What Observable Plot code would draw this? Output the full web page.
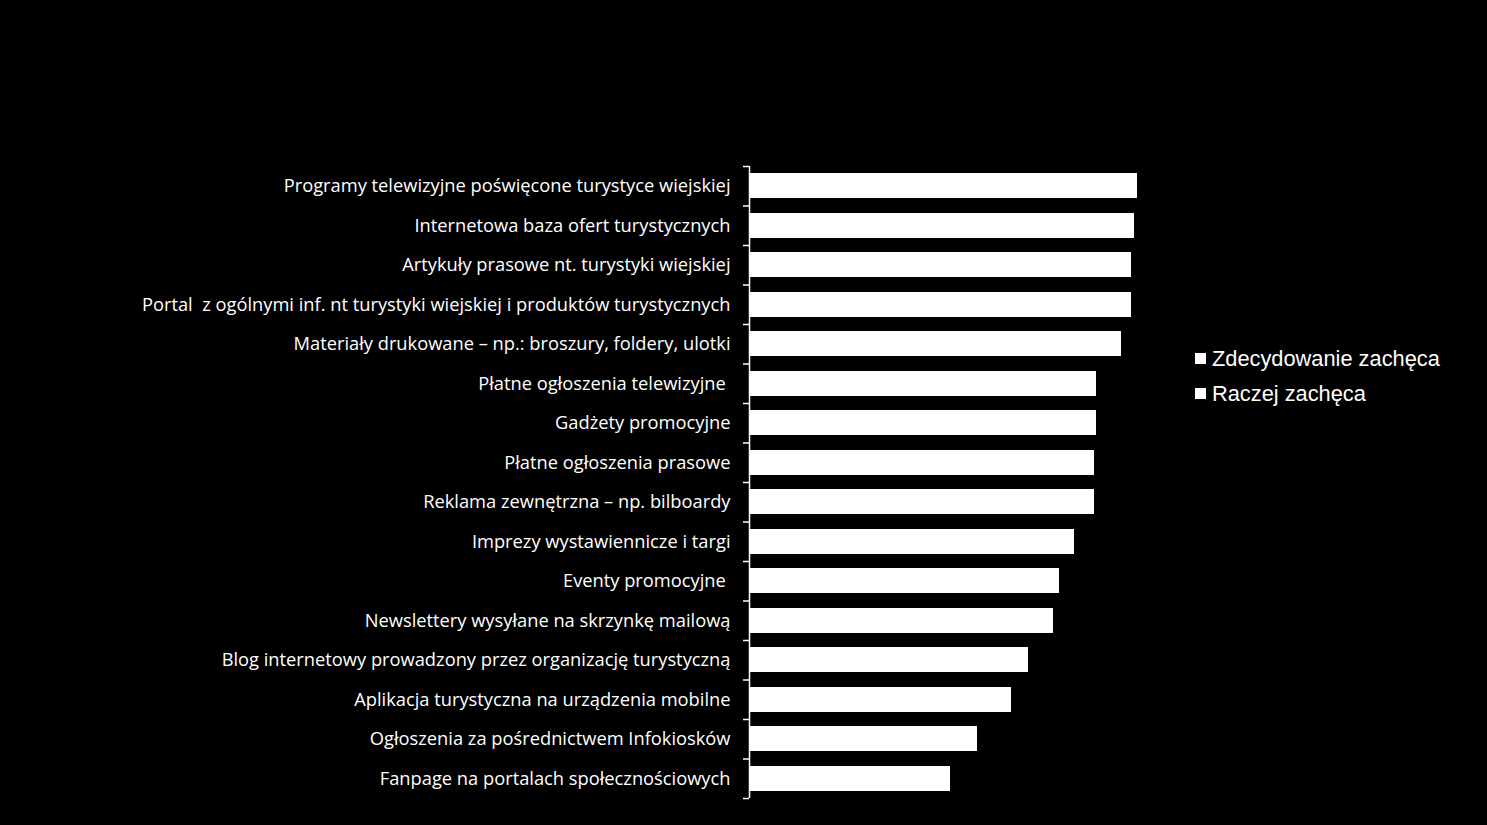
<!DOCTYPE html>
<html>
<head>
<meta charset="utf-8">
<script src="https://cdn.jsdelivr.net/npm/d3@7"></script>
<script src="https://cdn.jsdelivr.net/npm/@observablehq/plot@0.6"></script>
<style>
  html, body { margin: 0; padding: 0; background: #000; }
  #wrap { position: relative; width: 1487px; height: 825px; overflow: hidden; }
  #legend { position: absolute; left: 1195px; top: 341px; font-family: "Liberation Sans", Arial, sans-serif; font-size: 21.8px; color: #fff; }
  #legend .item { display: flex; align-items: center; height: 35px; }
  #legend .sw { width: 11px; height: 11px; background: #fff; margin-right: 6px; }
</style>
</head>
<body>
<div id="wrap"><div id="chart"></div><div id="legend"></div></div>
<script>
const categories = [
  "Programy telewizyjne poświęcone turystyce wiejskiej",
  "Internetowa baza ofert turystycznych",
  "Artykuły prasowe nt. turystyki wiejskiej",
  "Portal  z ogólnymi inf. nt turystyki wiejskiej i produktów turystycznych",
  "Materiały drukowane – np.: broszury, foldery, ulotki",
  "Płatne ogłoszenia telewizyjne ",
  "Gadżety promocyjne",
  "Płatne ogłoszenia prasowe",
  "Reklama zewnętrzna – np. bilboardy",
  "Imprezy wystawiennicze i targi",
  "Eventy promocyjne ",
  "Newslettery wysyłane na skrzynkę mailową",
  "Blog internetowy prowadzony przez organizację turystyczną",
  "Aplikacja turystyczna na urządzenia mobilne",
  "Ogłoszenia za pośrednictwem Infokiosków",
  "Fanpage na portalach społecznościowych"
];
const seriesNames = ["Zdecydowanie zachęca", "Raczej zachęca"];
const zdecydowanie = [41.2, 45.3, 34.7, 40.1, 33.8, 30.2, 24.6, 24.3, 25.5, 26.9, 22.1, 25.4, 20.3, 21.8, 14.5, 15.7];
const raczej       = [48.8, 43.8, 53.9, 48.5, 52.5, 50.3, 55.9, 55.7, 54.5, 48.5, 49.8, 45.1, 44.4, 38.8, 38.4, 30.9];

const rows = [];
categories.forEach((c, i) => {
  rows.push({cat: c, series: seriesNames[0], value: zdecydowanie[i]});
  rows.push({cat: c, series: seriesNames[1], value: raczej[i]});
});

const step = (798 - 166) / categories.length;

const chart = Plot.plot({
  width: 1487,
  height: 825,
  marginLeft: 749,
  marginRight: 307,
  marginTop: 166,
  marginBottom: 27,
  style: {background: "#000", color: "#fff", fontFamily: "'Open Sans', sans-serif", fontSize: "18px"},
  x: {domain: [0, 100], axis: null},
  y: {domain: categories, paddingInner: 0.39, paddingOuter: 0.195, round: false, label: null},
  color: {domain: seriesNames, range: ["#fff", "#fff"]},
  marks: [
    Plot.barX(rows, Plot.stackX({y: "cat", x: "value", fill: "series", stroke: "series", strokeWidth: 1, shapeRendering: "crispEdges", order: seriesNames})),
    Plot.ruleX([0], {stroke: "#fff", strokeWidth: 1.5}),
    Plot.ruleY(categories, {y: d => d, x1: 0, x2: 0, insetLeft: -6, dy: -step / 2, stroke: "#fff", strokeWidth: 1.5}),
    Plot.ruleY(categories.slice(-1), {y: d => d, x1: 0, x2: 0, insetLeft: -6, dy: step / 2, stroke: "#fff", strokeWidth: 1.5}),
    Plot.axisY({tickSize: 0, tickPadding: 19, fontSize: 18.3, fill: "#fff", label: null})
  ]
});
document.getElementById("chart").appendChild(chart);

const legend = document.getElementById("legend");
seriesNames.forEach(s => {
  const it = document.createElement("div");
  it.className = "item";
  it.innerHTML = `<span class="sw"></span><span>${s}</span>`;
  legend.appendChild(it);
});
</script>
</body>
</html>
